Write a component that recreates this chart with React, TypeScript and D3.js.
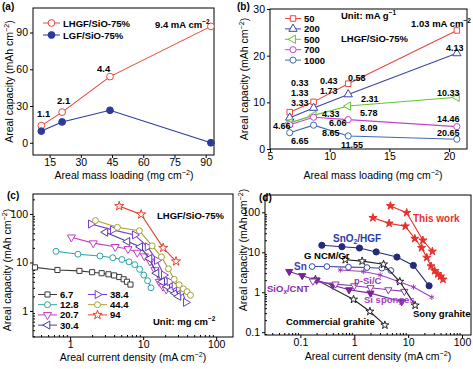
import { useEffect, useRef } from 'react'
import * as d3 from 'd3'

const W = 473
const H = 369
const FONT = '"Liberation Sans", Arial, Helvetica, sans-serif'

// ---- (a) capacity vs areal mass loading
const aLoading = [11, 21, 44, 92.5]
const aLHGF = [14, 25, 54, 95]
const aLGF = [9.5, 17, 26.5, 0]

// ---- (b) capacity vs loading at several specific currents
const bLoading = [6.65, 8.65, 11.55, 20.65]
const bRates = ['50', '200', '500', '700', '1000']
const b50 = [7.9, 10.1, 14.0, 25.4]
const b200 = [6.7, 8.8, 11.7, 20.5]
const b500 = [5.6, 7.2, 9.2, 11.1]
const b700 = [5.2, 6.8, 6.3, 4.8]
const b1000 = [3.5, 5.1, 2.8, 2.1]

// ---- (c) rate curves per mass loading (mg cm-2)
const cLoadings = ['6.7', '12.8', '20.7', '30.4', '38.4', '44.4', '94']
const c67x = [0.33, 0.67, 1.34, 2.0, 2.7, 3.35, 4.0, 4.7, 5.4, 6.0, 6.7]
const c67y = [7.9, 7.0, 6.7, 6.3, 6.0, 5.7, 5.4, 5.0, 4.5, 4.0, 3.5]
const c128x = [0.64, 1.28, 2.56, 3.84, 5.12, 6.4, 7.68, 8.96, 10.2, 11.5, 12.8]
const c128y = [17, 14.8, 13.6, 12.5, 11.5, 10.3, 9.0, 7.2, 5.5, 4.2, 3.0]
const c207x = [1.04, 2.07, 4.14, 6.2, 8.3, 10.4, 12.4, 14.5, 16.6, 18.6, 20.7]
const c207y = [33, 25, 21, 19, 16, 13.5, 10.5, 7.0, 4.0, 3.2, 2.8]
const c304x = [3.04, 6.08, 9.12, 12.2, 15.2, 18.2, 21.3, 24.3, 27.4, 30.4]
const c304y = [42, 27, 21, 12, 6.0, 4.0, 3.2, 2.7, 2.3, 2.0]
const c384x = [1.92, 3.84, 7.68, 11.5, 15.4, 19.2, 23.0, 26.9, 30.7, 34.6, 38.4]
const c384y = [62, 47, 37, 21, 11, 5.5, 4.0, 3.3, 2.9, 2.5, 1.5]
const c444x = [2.22, 4.44, 8.88, 13.3, 17.8, 22.2, 26.6, 31.1, 35.5, 40, 44.4]
const c444y = [73, 53, 45, 22, 13, 7.4, 4.5, 3.45, 2.85, 2.5, 2.1]
const c94x = [4.7, 9.4, 18.8, 28.2]
const c94y = [145, 98, 20, 10.5]

// ---- (d) comparison with literature
const dSnO2x = [0.25, 0.59, 1.25, 2.55, 6.2, 12.5, 24.5]
const dSnO2y = [15, 13.8, 12.8, 10.2, 7.6, 4.7, 1.45]
const dSnx = [0.165, 0.31, 0.78, 1.72, 3.26, 4.78]
const dSny = [4.4, 4.4, 4.25, 4.15, 4.0, 3.5]
const dNCMx = [0.68, 1.4, 3.5, 7.0, 13.5]
const dNCMy = [6.5, 6.0, 5.0, 1.85, 0.47]
const dPSiCx = [0.55, 1.49, 3.03, 6.6, 12.6, 27.5]
const dPSiCy = [3.6, 3.3, 2.7, 1.85, 1.35, 0.75]
const dSiOxx = [0.17, 0.45, 1.0, 2.0, 4.3, 8.5]
const dSiOxy = [1.9, 1.6, 1.45, 1.3, 1.15, 1.05]
const dSpongex = [0.062, 0.108, 0.2, 0.4, 0.8, 2.0, 7.6]
const dSpongey = [3.3, 2.6, 2.0, 1.5, 1.15, 0.95, 0.58]
const dGraphx = [0.19, 0.97, 1.95, 3.7]
const dGraphy = [2.1, 0.66, 0.33, 0.15]

type Sym = 'circle' | 'square' | 'triUp' | 'triDown' | 'triLeft' | 'triRight' | 'star' | 'asterisk'
type Part = string | { s: string; sup?: boolean; sub?: boolean }
type Box = { l: number; r: number; t: number; b: number }

const rotation: Record<string, number> = { triUp: 0, triDown: 180, triLeft: -90, triRight: 90 }

function marker(g: any, sym: Sym, cx: number, cy: number, color: string, filled: boolean, size = 32) {
  const type =
    sym === 'circle' ? d3.symbolCircle
      : sym === 'square' ? d3.symbolSquare
        : sym === 'star' ? d3.symbolStar
          : sym === 'asterisk' ? d3.symbolAsterisk
            : d3.symbolTriangle
  const rot = rotation[sym] || 0
  g.append('path')
    .attr('d', d3.symbol().type(type).size(size)())
    .attr('transform', `translate(${cx},${cy}) rotate(${rot})`)
    .attr('fill', sym === 'asterisk' ? 'none' : filled ? color : '#fff')
    .attr('stroke', color)
    .attr('stroke-width', 1)
}

function series(g: any, xs: number[], ys: number[], x: any, y: any, color: string, sym: Sym, filled: boolean, size = 32) {
  const pts = xs.map((v, i) => [x(v), y(ys[i])] as [number, number])
  g.append('path')
    .datum(pts)
    .attr('fill', 'none')
    .attr('stroke', color)
    .attr('stroke-width', 1.1)
    .attr('d', d3.line())
  pts.forEach(p => marker(g, sym, p[0], p[1], color, filled, size))
}

function rich(g: any, parts: Part[], size: number, x: number, y: number, opts: any = {}) {
  const t = g.append('text')
    .attr('x', x)
    .attr('y', y)
    .attr('font-size', size)
    .attr('font-family', FONT)
    .attr('font-weight', opts.bold ? 'bold' : 'normal')
    .attr('fill', opts.color || '#000')
    .attr('text-anchor', opts.anchor || 'start')
  if (opts.rotate) t.attr('transform', `rotate(-90,${x},${y})`)
  let shift = 0
  parts.forEach(p => {
    const o = typeof p === 'string' ? { s: p } : p
    const target = o.sup ? -0.38 * size : o.sub ? 0.25 * size : 0
    t.append('tspan')
      .attr('dy', target - shift)
      .attr('font-size', o.sup || o.sub ? size * 0.68 : size)
      .text(o.s)
    shift = target
  })
  return t
}

function label(g: any, s: string, x: number, y: number, color = '#000', size = 9.5) {
  rich(g, [s], size, x, y, { bold: true, color })
}

function frame(g: any, box: Box, x: any, y: any, xt: number[], yt: number[], log: boolean) {
  g.append('rect')
    .attr('x', box.l).attr('y', box.t)
    .attr('width', box.r - box.l).attr('height', box.b - box.t)
    .attr('fill', 'none').attr('stroke', '#000').attr('stroke-width', 1)
  const fmt = (d: any) => String(d)
  const style = (a: any) => {
    a.select('.domain').remove()
    a.attr('font-family', FONT).attr('font-size', 10.5)
    a.selectAll('text').attr('fill', '#000')
    a.selectAll('line').attr('stroke', '#000')
  }
  g.append('g').attr('transform', `translate(0,${box.b})`)
    .call(d3.axisBottom(x).tickValues(xt).tickFormat(fmt).tickSize(3).tickSizeOuter(0).tickPadding(1))
    .call(style)
  g.append('g').attr('transform', `translate(${box.l},0)`)
    .call(d3.axisLeft(y).tickValues(yt).tickFormat(fmt).tickSize(3).tickSizeOuter(0).tickPadding(2))
    .call(style)
  if (log) {
    const mx = x.ticks().filter((v: number) => !xt.includes(v))
    const my = y.ticks().filter((v: number) => !yt.includes(v))
    g.append('g').attr('transform', `translate(0,${box.b})`)
      .call(d3.axisBottom(x).tickValues(mx).tickFormat(() => '').tickSize(-2).tickSizeOuter(0))
      .call(style)
    g.append('g').attr('transform', `translate(${box.l},0)`)
      .call(d3.axisLeft(y).tickValues(my).tickFormat(() => '').tickSize(-2).tickSizeOuter(0))
      .call(style)
  }
}

const capTitle: Part[] = ['Areal capacity (mAh cm', { s: '−2', sup: true }, ')']
const loadTitle: Part[] = ['Areal mass loading (mg cm', { s: '−2', sup: true }, ')']
const curTitle: Part[] = ['Areal current density (mA cm', { s: '−2', sup: true }, ')']

function drawA(g: any) {
  const box = { l: 33, r: 214, t: 8, b: 155 }
  const x = d3.scaleLinear().domain([7, 94]).range([box.l, box.r])
  const y = d3.scaleLinear().domain([-10, 110]).range([box.b, box.t])
  frame(g, box, x, y, [15, 30, 45, 60, 75, 90], [0, 30, 60, 90], false)
  series(g, aLoading, aLHGF, x, y, '#e8463c', 'circle', false, 36)
  series(g, aLoading, aLGF, x, y, '#2b3a9c', 'circle', true, 36)
  // legend
  g.append('line').attr('x1', 43).attr('x2', 60).attr('y1', 23).attr('y2', 23).attr('stroke', '#e8463c')
  marker(g, 'circle', 51.5, 23, '#e8463c', false, 36)
  label(g, 'LHGF/SiO-75%', 63, 26.5)
  g.append('line').attr('x1', 43).attr('x2', 60).attr('y1', 35).attr('y2', 35).attr('stroke', '#2b3a9c')
  marker(g, 'circle', 51.5, 35, '#2b3a9c', true, 36)
  label(g, 'LGF/SiO-75%', 63, 38.5)
  label(g, '1.1', 37, 116.5)
  label(g, '2.1', 57, 103.5)
  label(g, '4.4', 97, 71.5)
  rich(g, ['9.4 mA cm', { s: '−2', sup: true }], 9.5, 155, 27.5, { bold: true })
  rich(g, capTitle, 10.5, 13, 81.5, { rotate: true, anchor: 'middle' })
  rich(g, loadTitle, 10.5, 124, 179, { anchor: 'middle' })
  label(g, '(a)', 2, 10, '#000', 10)
}

function drawB(g: any) {
  const box = { l: 270, r: 467, t: 9, b: 149 }
  const x = d3.scaleLinear().domain([5, 21.5]).range([box.l, box.r])
  const y = d3.scaleLinear().domain([0, 30]).range([box.b, box.t])
  frame(g, box, x, y, [5, 10, 15, 20], [0, 10, 20, 30], false)
  const cols = ['#e8463c', '#3a46a8', '#62c42c', '#c444c8', '#3c6cb0']
  const syms: Sym[] = ['square', 'triUp', 'triLeft', 'circle', 'circle']
  const vals = [b50, b200, b500, b700, b1000]
  vals.forEach((v, i) => series(g, bLoading, v, x, y, cols[i], syms[i], false, 30))
  bRates.forEach((r, i) => {
    const yy = 18.5 + i * 10.4
    g.append('line').attr('x1', 285).attr('x2', 301).attr('y1', yy).attr('y2', yy).attr('stroke', cols[i])
    marker(g, syms[i], 293, yy, cols[i], false, 30)
    label(g, r, 304, yy + 3.5)
  })
  rich(g, ['Unit: mA g', { s: '−1', sup: true }], 9.5, 341, 18.5, { bold: true })
  label(g, 'LHGF/SiO-75%', 341, 42)
  rich(g, ['1.03 mA cm', { s: '−2', sup: true }], 9.5, 411, 26.5, { bold: true })
  const ann: [string, number, number][] = [
    ['0.33', 291, 85.5], ['1.33', 291, 95.5], ['3.33', 291, 105.5],
    ['0.43', 320, 84], ['1.73', 320, 94], ['0.58', 348, 80.5],
    ['2.31', 361, 102], ['4.33', 322, 116.5], ['5.78', 360, 115.5],
    ['4.66', 273, 128.5], ['6.06', 329, 126], ['8.09', 360, 131],
    ['8.65', 322, 135.5], ['6.65', 291, 143.5], ['11.55', 341, 147.5],
    ['4.13', 446, 50.5], ['10.33', 437, 95.5], ['14.46', 437, 121.5], ['20.65', 437, 135.5],
  ]
  ann.forEach(a => label(g, a[0], a[1], a[2], '#000', 9))
  rich(g, capTitle, 10.5, 248, 79, { rotate: true, anchor: 'middle' })
  rich(g, loadTitle, 10.5, 373, 179, { anchor: 'middle' })
  label(g, '(b)', 237, 10, '#000', 10)
}

function drawC(g: any) {
  const box = { l: 33, r: 233, t: 194, b: 337 }
  const x = d3.scaleLog().domain([0.31, 170]).range([box.l, box.r])
  const y = d3.scaleLog().domain([0.29, 258]).range([box.b, box.t])
  frame(g, box, x, y, [1, 10, 100], [1, 10, 100], true)
  const cols = ['#3a3a3a', '#2aa3a8', '#c23ec8', '#4a3c9c', '#7a3ed4', '#a4a42e', '#e8402c']
  const syms: Sym[] = ['square', 'circle', 'triDown', 'triLeft', 'triRight', 'circle', 'star']
  const xs = [c67x, c128x, c207x, c304x, c384x, c444x, c94x]
  const ys = [c67y, c128y, c207y, c304y, c384y, c444y, c94y]
  const sz = (s: Sym) => (s === 'star' ? 26 : s === 'square' ? 26 : 28)
  xs.forEach((v, i) => series(g, v, ys[i], x, y, cols[i], syms[i], false, sz(syms[i])))
  cLoadings.forEach((s, i) => {
    const col = i < 4 ? 0 : 1
    const row = i < 4 ? i : i - 4
    const x0 = col === 0 ? 38 : 88
    const yy = 294.5 + row * 10.2
    g.append('line').attr('x1', x0).attr('x2', x0 + 19).attr('y1', yy).attr('y2', yy).attr('stroke', cols[i])
    marker(g, syms[i], x0 + 9.5, yy, cols[i], false, sz(syms[i]))
    label(g, s, x0 + 22, yy + 3.5)
  })
  label(g, 'LHGF/SiO-75%', 157, 218.5)
  rich(g, ['Unit: mg cm', { s: '−2', sup: true }], 9.5, 153, 324.5, { bold: true })
  rich(g, capTitle, 10.5, 11, 270, { rotate: true, anchor: 'middle' })
  rich(g, curTitle, 10.5, 133, 361, { anchor: 'middle' })
  label(g, '(c)', 7, 199, '#000', 10)
}

function drawD(g: any) {
  const box = { l: 265, r: 471, t: 195, b: 335 }
  const x = d3.scaleLog().domain([0.022, 147]).range([box.l, box.r])
  const y = d3.scaleLog().domain([0.085, 272]).range([box.b, box.t])
  frame(g, box, x, y, [0.1, 1, 10, 100], [0.1, 1, 10, 100], true)
  series(g, dGraphx, dGraphy, x, y, '#222', 'star', false, 20)
  series(g, dSpongex, dSpongey, x, y, '#7a2494', 'triDown', true, 22)
  series(g, dSiOxx, dSiOxy, x, y, '#9038b0', 'triDown', false, 22)
  series(g, dPSiCx, dPSiCy, x, y, '#9c44b8', 'asterisk', false, 20)
  series(g, dSnx, dSny, x, y, '#3a42a6', 'circle', false, 26)
  series(g, dNCMx, dNCMy, x, y, '#222', 'star', false, 20)
  series(g, dSnO2x, dSnO2y, x, y, '#262a78', 'circle', true, 30)
  series(g, c444x, c444y, x, y, '#e8302c', 'star', true, 20)
  series(g, c94x, c94y, x, y, '#e8302c', 'star', true, 20)
  label(g, 'This work', 413, 222, '#e8302c', 10)
  rich(g, ['SnO', { s: '2', sub: true }, '/HGF'], 10, 333, 241.5, { bold: true, color: '#2e3aa4' })
  label(g, 'G NCM/Gr', 304, 259, '#000', 9.5)
  label(g, 'Sn', 294, 270, '#3a42b0', 10)
  label(g, 'p-Si/C', 354, 284, '#9c36b6', 9.5)
  rich(g, ['SiO', { s: 'x', sub: true }, '/CNT'], 9.5, 267, 292, { bold: true, color: '#8a2aa8' })
  label(g, 'Si sponges', 364, 303, '#a040c4', 9.5)
  label(g, 'Sony grahite', 413, 317, '#000', 9.5)
  label(g, 'Commercial grahite', 286, 325, '#000', 9.5)
  rich(g, capTitle, 10.5, 247, 250, { rotate: true, anchor: 'middle' })
  rich(g, curTitle, 10.5, 378, 360, { anchor: 'middle' })
  label(g, '(d)', 259, 201, '#000', 10)
}

export default function App() {
  const ref = useRef<SVGSVGElement>(null)

  useEffect(() => {
    if (!ref.current) return
    const svg = d3.select(ref.current)
    svg.selectAll('*').remove()
    drawA(svg.append('g'))
    drawB(svg.append('g'))
    drawC(svg.append('g'))
    drawD(svg.append('g'))
  }, [])

  return (
    <svg
      ref={ref}
      width={W}
      height={H}
      style={{ position: 'absolute', left: 0, top: 0, background: '#fff' }}
    />
  )
}
